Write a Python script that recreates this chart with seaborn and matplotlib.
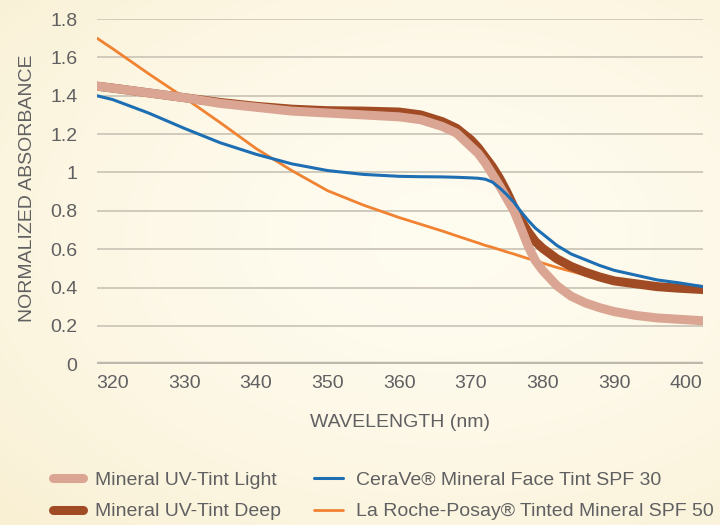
import numpy as np
import pandas as pd
import matplotlib
matplotlib.use("Agg")
import matplotlib.pyplot as plt
import seaborn as sns

# Data
wavelength = [317.8, 320, 325, 330, 335, 340, 345, 350, 355, 360, 363, 366, 368, 370,
              371, 372, 373, 374, 375, 376, 377, 378, 379, 380, 382, 384, 386, 388,
              390, 393, 396, 399, 402.4]

tint_light = [1.45, 1.44, 1.415, 1.39, 1.36, 1.34, 1.32, 1.31, 1.30, 1.29, 1.275, 1.24,
              1.205, 1.135, 1.10, 1.05, 0.99, 0.93, 0.865, 0.80, 0.71, 0.615, 0.54, 0.49,
              0.41, 0.355, 0.32, 0.295, 0.275, 0.255, 0.242, 0.235, 0.227]

tint_deep = [1.45, 1.44, 1.415, 1.39, 1.365, 1.345, 1.33, 1.322, 1.32, 1.315, 1.30, 1.265,
             1.23, 1.17, 1.13, 1.08, 1.03, 0.97, 0.90, 0.82, 0.75, 0.69, 0.64, 0.605,
             0.55, 0.51, 0.48, 0.455, 0.435, 0.42, 0.405, 0.397, 0.39]

cerave = [1.40, 1.38, 1.31, 1.23, 1.155, 1.095, 1.045, 1.01, 0.99, 0.98, 0.978, 0.977,
          0.975, 0.972, 0.97, 0.965, 0.95, 0.92, 0.885, 0.845, 0.795, 0.75, 0.71, 0.68,
          0.62, 0.575, 0.545, 0.515, 0.49, 0.465, 0.44, 0.425, 0.405]

la_roche = [1.70, 1.645, 1.515, 1.39, 1.26, 1.125, 1.01, 0.905, 0.83, 0.765, 0.73, 0.695,
            0.67, 0.645, 0.633, 0.62, 0.61, 0.598, 0.586, 0.575, 0.563, 0.551, 0.54, 0.528,
            0.505, 0.485, 0.465, 0.448, 0.43, 0.415, 0.40, 0.393, 0.385]

series_names = ["Mineral UV-Tint Light", "Mineral UV-Tint Deep",
                "CeraVe® Mineral Face Tint SPF 30", "La Roche-Posay® Tinted Mineral SPF 50"]

x_ticks = [320, 330, 340, 350, 360, 370, 380, 390, 400]
y_ticks = [0, 0.2, 0.4, 0.6, 0.8, 1.0, 1.2, 1.4, 1.6, 1.8]
y_tick_labels = ["0", "0.2", "0.4", "0.6", "0.8", "1", "1.2", "1.4", "1.6", "1.8"]

df = pd.DataFrame({"wavelength": wavelength,
                   series_names[0]: tint_light,
                   series_names[1]: tint_deep,
                   series_names[2]: cerave,
                   series_names[3]: la_roche})

sns.set_style("white")
plt.rcParams['font.family'] = ['Liberation Sans', 'DejaVu Sans']
text_color = "#606062"

fig = plt.figure(figsize=(7.2, 5.25), dpi=100)

# cream background with a soft gradient
bg = fig.add_axes([0, 0, 1, 1], zorder=-10)
yy, xx = np.mgrid[0:1:200j, 0:1:300j]
r = np.sqrt((xx - 0.62) ** 2 + ((yy - 0.55) / 0.9) ** 2)
t = np.clip(r / 0.85, 0, 1) ** 1.6
c0 = np.array([255, 252, 240]) / 255
c1 = np.array([249, 240, 212]) / 255
bg.imshow(c0 + (c1 - c0) * t[..., None], extent=[0, 1, 0, 1], aspect="auto", origin="lower")
bg.axis("off")

ax = fig.add_axes([0.1347, 0.306, 0.8417, 0.6578])
ax.patch.set_alpha(0)

# name, color, width, zorder
styles = {
    series_names[3]: ("#F08232", 2.0, 3),
    series_names[1]: ("#A04B23", 6.5, 4),
    series_names[0]: ("#DBA593", 6.5, 5),
    series_names[2]: ("#1E6EB4", 2.2, 6),
}
for name, (color, lw, z) in styles.items():
    sns.lineplot(data=df, x="wavelength", y=name, ax=ax, color=color, lw=lw,
                 zorder=z, label=name, legend=False, solid_capstyle="round")

ax.set_xlim(317.8, 402.4)
ax.set_ylim(0, 1.8)
ax.set_xticks(x_ticks)
ax.set_yticks(y_ticks)
ax.set_yticklabels(y_tick_labels)
ax.yaxis.grid(True, color="#CFCABB", lw=1.4)
ax.xaxis.grid(False)
ax.axhline(0, color="#BDB8AC", lw=3.2, zorder=2)
sns.despine(ax=ax, left=True, bottom=True)
ax.tick_params(axis="both", length=0, labelsize=14, labelcolor=text_color)
ax.tick_params(axis="x", pad=8)
ax.tick_params(axis="y", pad=14)

ax.set_xlabel("WAVELENGTH (nm)", fontsize=14, color=text_color)
ax.set_ylabel("NORMALIZED ABSORBANCE", fontsize=14, color=text_color)
ax.xaxis.set_label_coords(0.5, -0.144)
ax.yaxis.set_label_coords(-0.100, 0.51)

handles, labels = ax.get_legend_handles_labels()
lookup = dict(zip(labels, handles))
order = [series_names[0], series_names[1], series_names[2], series_names[3]]
fig.legend([lookup[n] for n in order], order, ncol=2, loc="center left",
           bbox_to_anchor=(0.0742, 0.0552), frameon=False, fontsize=14,
           handlelength=1.5, handletextpad=0.65, columnspacing=1.7,
           labelspacing=0.7, borderpad=0, borderaxespad=0, labelcolor=text_color)

fig.savefig("out.png", dpi=100)
